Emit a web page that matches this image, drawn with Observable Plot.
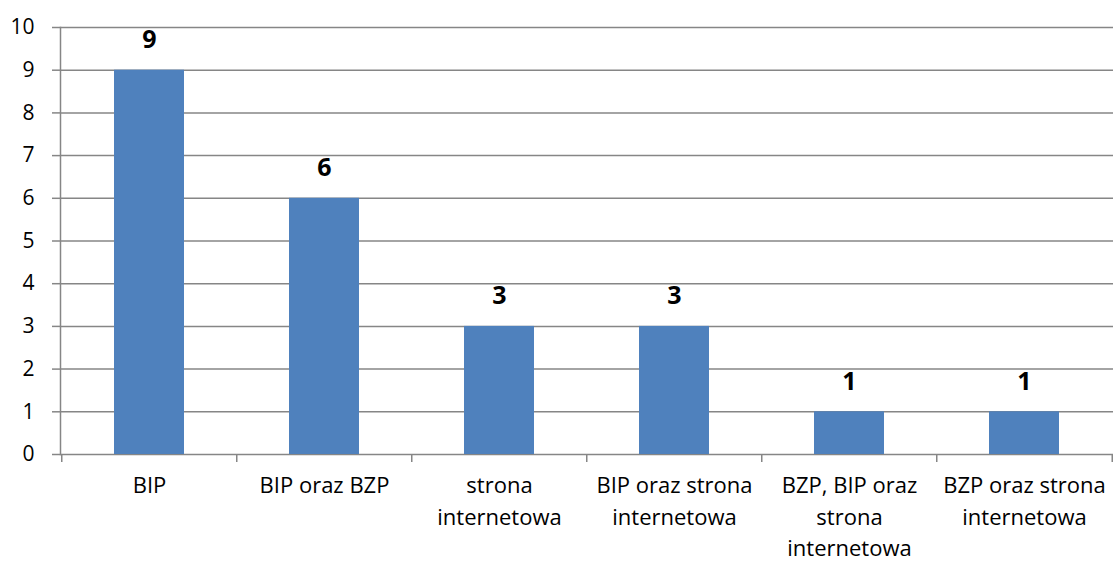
<!DOCTYPE html>
<html>
<head>
<meta charset="utf-8">
<script src="https://cdn.jsdelivr.net/npm/d3@7"></script>
<script src="https://cdn.jsdelivr.net/npm/@observablehq/plot@0.6"></script>
<style>
  html, body { margin: 0; padding: 0; background: #fff; }
  #chart svg { display: block; }
</style>
</head>
<body>
<div id="chart"></div>
<script>
const categories = ["BIP", "BIP oraz BZP", "strona internetowa", "BIP oraz strona internetowa", "BZP, BIP oraz strona internetowa", "BZP oraz strona internetowa"];
const tickLabels = ["BIP", "BIP oraz BZP", "strona\ninternetowa", "BIP oraz strona\ninternetowa", "BZP, BIP oraz\nstrona\ninternetowa", "BZP oraz strona\ninternetowa"];
const values = [9, 6, 3, 3, 1, 1];
const yTicks = [0, 1, 2, 3, 4, 5, 6, 7, 8, 9, 10];

const data = categories.map((c, i) => ({cat: c, label: tickLabels[i], value: values[i]}));

const W = 1114, H = 562;
const mL = 60, mR = 1, mT = 27, mB = 108;
const step = (W - mL - mR) / categories.length;
const gridColor = "#868686";
const font = "'Open Sans', Lato, sans-serif";

const chart = Plot.plot({
  width: W,
  height: H,
  marginLeft: mL,
  marginRight: mR,
  marginTop: mT,
  marginBottom: mB,
  style: {fontFamily: font, background: "#fff", color: "#000"},
  x: {domain: categories, paddingInner: 0.6, paddingOuter: 0.3, axis: null},
  y: {domain: [0, 10], axis: null},
  marks: [
    Plot.ruleY(yTicks, {y: d => d, stroke: gridColor, strokeWidth: 1.5, strokeOpacity: 1}),
    Plot.axisY({ticks: yTicks, tickSize: 8, tickPadding: 18, stroke: gridColor, strokeWidth: 1.5, fontSize: 21, tickFormat: d => String(d), label: null, color: "#000"}),
    Plot.frame({anchor: "left", stroke: gridColor, strokeWidth: 1.5, strokeOpacity: 1}),
    Plot.barY(data, {x: "cat", y: "value", fill: "#4F81BD"}),
    Plot.ruleX(data, {x: "cat", y1: 0, y2: -0.19, dx: -step / 2, stroke: gridColor, strokeWidth: 1.5, strokeOpacity: 1}),
    Plot.ruleX([categories[categories.length - 1]], {x: d => d, y1: 0, y2: -0.19, dx: step / 2, stroke: gridColor, strokeWidth: 1.5, strokeOpacity: 1}),
    Plot.text(data, {x: "cat", y: "value", text: d => String(d.value), dy: -30, fontSize: 25, fontWeight: "bold", fill: "#000"}),
    Plot.text(data, {x: "cat", y: 0, text: "label", lineAnchor: "top", dy: 16, fontSize: 22, lineHeight: 1.44, fill: "#000"})
  ]
});

document.getElementById("chart").appendChild(chart);
</script>
</body>
</html>
